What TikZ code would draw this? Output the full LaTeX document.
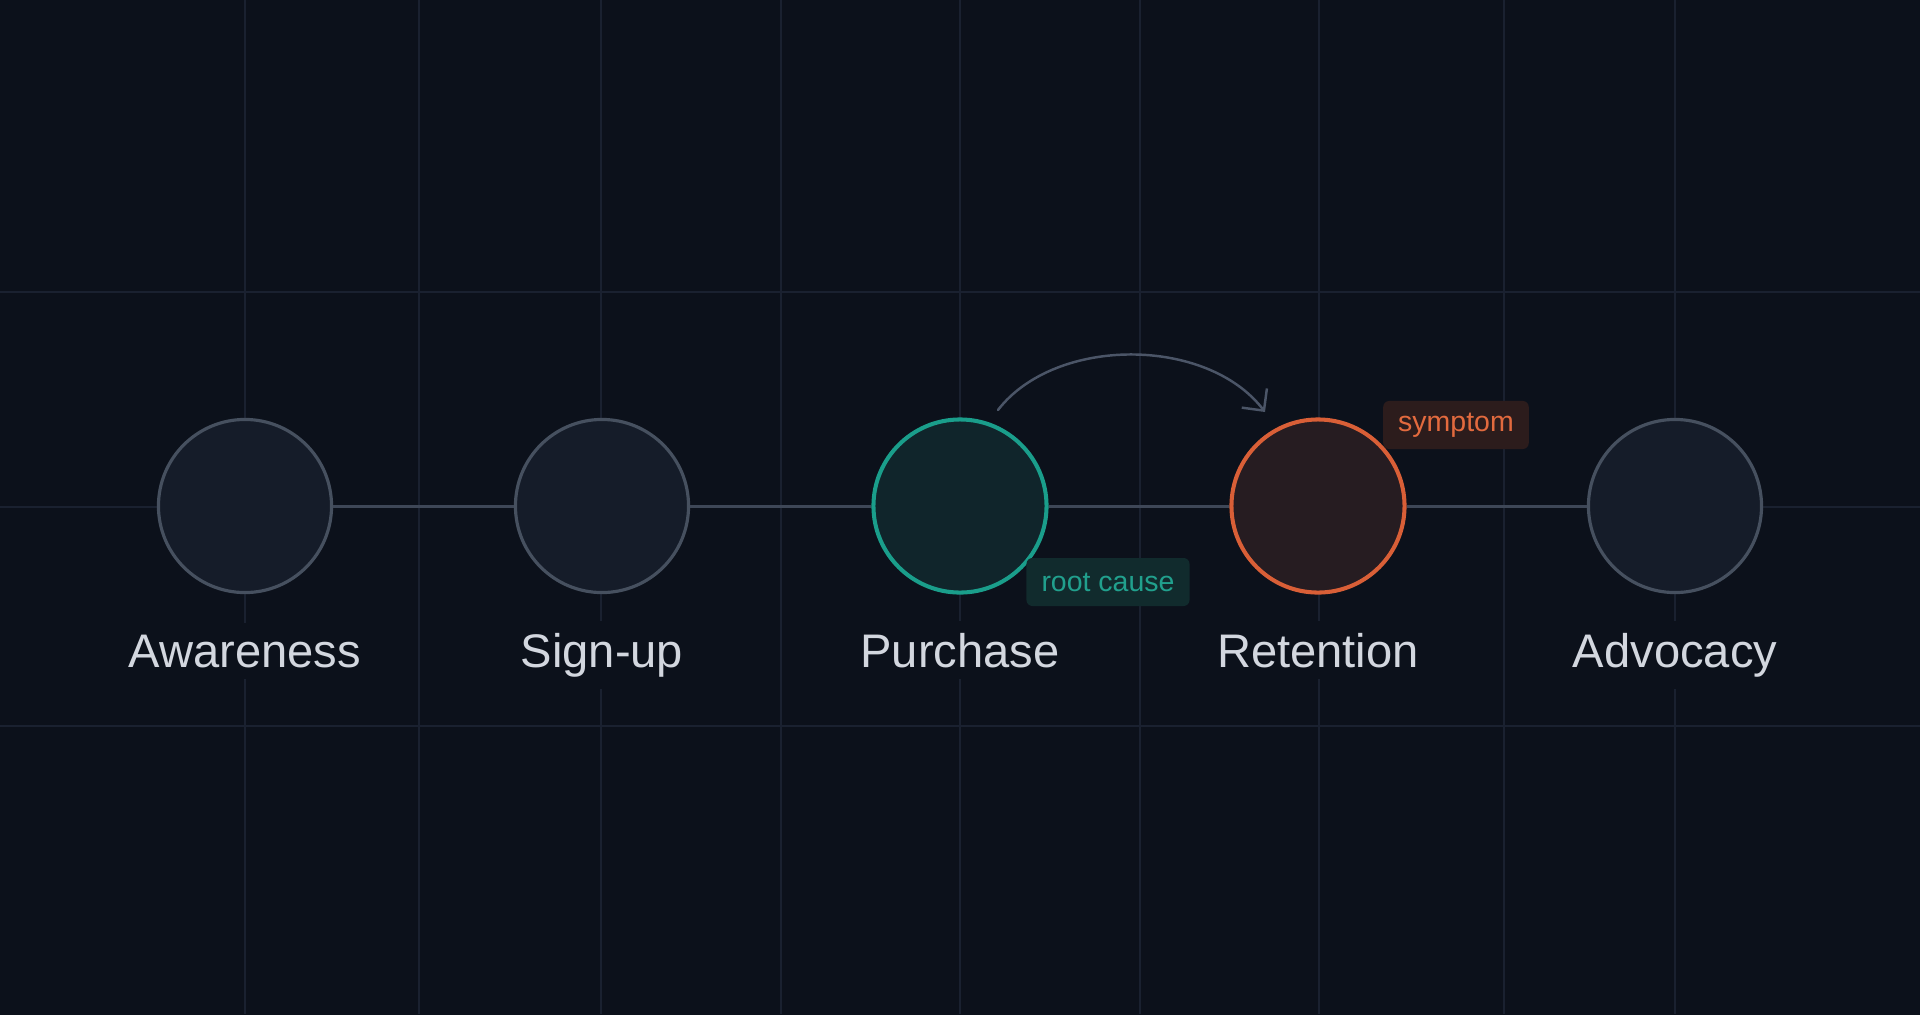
\documentclass[tikz,border=0pt]{standalone}
\usepackage{fontspec}
\setmainfont{Liberation Sans}
\usetikzlibrary{arrows.meta,calc}

\definecolor{bg}{HTML}{0C111B}
\definecolor{gridline}{HTML}{1A2130}
\definecolor{linkgray}{HTML}{3E4757}
\definecolor{stageline}{HTML}{46505F}
\definecolor{stagefill}{HTML}{151C29}
\definecolor{teal}{HTML}{1A9E8B}
\definecolor{tealfill}{HTML}{10252B}
\definecolor{tealtag}{HTML}{112B2D}
\definecolor{tealtext}{HTML}{21A08D}
\definecolor{rust}{HTML}{D95F37}
\definecolor{rustfill}{HTML}{261C21}
\definecolor{rusttag}{HTML}{2C1C1C}
\definecolor{rusttext}{HTML}{E26A3E}
\definecolor{labelgray}{HTML}{D3D7DF}
\definecolor{arrowgray}{HTML}{4B5567}

\tikzset{
    stage/.style={circle, minimum size=1.73cm, inner sep=0pt, draw=stageline, fill=stagefill, line width=0.9pt},
    cause/.style={stage, draw=teal, fill=tealfill, line width=1.15pt},
    effect/.style={stage, draw=rust, fill=rustfill, line width=1.15pt},
    stagename/.style={anchor=base, fill=bg, text=labelgray, font=\fontsize{13.4}{16}\selectfont},
    tag/.style={rounded corners=1.7pt, minimum height=0.48cm, inner xsep=0.15cm, inner ysep=0pt, font=\fontsize{8.1}{10}\selectfont},
    link/.style={draw=linkgray, line width=0.85pt},
}

\begin{document}
\begin{tikzpicture}[x=0.01cm, y=-0.01cm]

    %% Background and grid
    \useasboundingbox (0,0) rectangle (1920,1014);
    \fill[bg] (-10,-10) rectangle (1930,1024);
    \foreach \gx in {245,419,601,781,960,1140,1319,1504,1675}
        \draw[gridline, line width=0.4pt] (\gx,0) -- (\gx,1014);
    \foreach \gy in {292,507,726}
        \draw[gridline, line width=0.4pt] (0,\gy) -- (1920,\gy);

    %% Stages
    \node[stage]  (awareness) at (245,506) {};
    \node[stage]  (signup)    at (602,506) {};
    \node[cause]  (purchase)  at (960,506) {};
    \node[effect] (retention) at (1318,506) {};
    \node[stage]  (advocacy)  at (1675,506) {};

    \draw[link] (awareness) -- (signup);
    \draw[link] (signup) -- (purchase);
    \draw[link] (purchase) -- (retention);
    \draw[link] (retention) -- (advocacy);

    % Names
    \node[stagename] (awarenessname) at (245,667) {Awareness};
    \node[stagename] (signupname)    at (602,667) {Sign-up};
    \node[stagename] (purchasename)  at (960,667) {Purchase};
    \node[stagename] (retentionname) at (1318,667) {Retention};
    \node[stagename] (advocacyname)  at (1675,667) {Advocacy};

    % Cause leads to effect
    \coordinate (arcstart) at ($(purchase.center)+(38,-96)$);
    \coordinate (arcend)   at ($(retention.center)+(-53,-94)$);
    \draw[arrowgray, line width=0.7pt, line cap=round, -{Straight Barb[length=4.5pt, width=9pt]}]
        (arcstart) .. controls +(57,-74) and +(-58,-76) .. (arcend);

    % Tags
    \node[tag, fill=tealtag, text=tealtext] (rootcause) at (1108,582) {root cause};
    \node[tag, fill=rusttag, text=rusttext] (symptom)   at (1456,425) {symptom};

\end{tikzpicture}
\end{document}
